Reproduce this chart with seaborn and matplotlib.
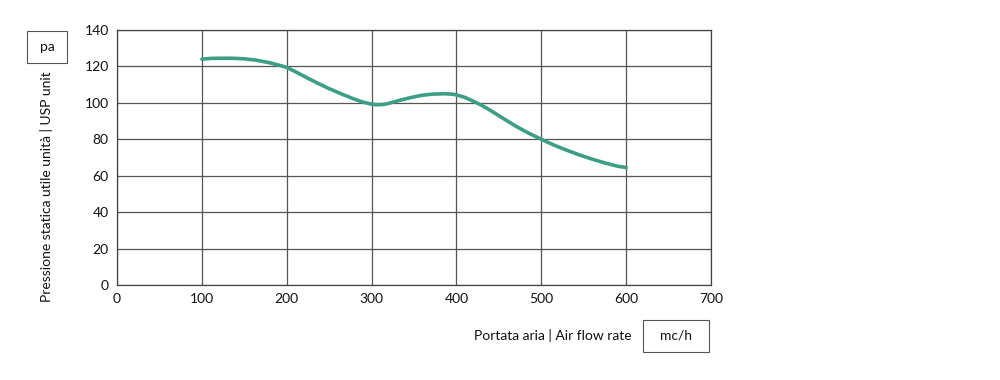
import matplotlib
matplotlib.use("Agg")
import matplotlib.pyplot as plt
import seaborn as sns
import pandas as pd
from matplotlib.patches import Rectangle

# curve
flow = [100, 110, 120, 135, 150, 165, 180, 190, 200, 212, 225, 237, 250, 265, 280, 290,
        300, 305, 310, 315, 320, 330, 340, 350, 360, 372, 385, 395, 400, 410, 420, 430,
        440, 455, 470, 485, 500, 515, 530, 545, 560, 575, 590, 600]
pressure = [124.0, 124.4, 124.5, 124.5, 124.2, 123.4, 122.0, 120.8, 119.5, 116.7, 113.5,
            110.7, 107.8, 104.8, 102.0, 100.4, 99.3, 99.0, 99.0, 99.2, 99.7, 101.0, 102.2,
            103.3, 104.2, 104.8, 105.0, 104.8, 104.4, 103.0, 100.9, 98.6, 95.9, 91.5, 87.2,
            83.4, 80.0, 76.8, 74.0, 71.4, 69.1, 67.0, 65.2, 64.5]

x_ticks = [0, 100, 200, 300, 400, 500, 600, 700]
y_ticks = [0, 20, 40, 60, 80, 100, 120, 140]

x_label = "Portata aria | Air flow rate"
y_label = "Pressione statica utile unità | USP unit"
x_unit = "mc/h"
y_unit = "pa"

sns.set_style("white")
plt.rcParams["font.family"] = ["Lato", "DejaVu Sans"]

df = pd.DataFrame({"flow": flow, "pressure": pressure})

fig = plt.figure(figsize=(10, 3.8), dpi=100)
ax = fig.add_axes([0.117, 0.25, 0.594, 0.671])

sns.lineplot(data=df, x="flow", y="pressure", ax=ax, color="#3c9f85", linewidth=2.6)

ax.set_xlim(0, 700)
ax.set_ylim(0, 140)
ax.set_xticks(x_ticks)
ax.set_yticks(y_ticks)
ax.tick_params(axis="both", length=0, labelsize=10, colors="#111111", pad=6)
ax.grid(True, color="#555555", linewidth=0.9)
for s in ax.spines.values():
    s.set_color("#444444")
    s.set_linewidth(0.9)
ax.set_xlabel("")
ax.set_ylabel("")

# unit boxes and labels
fig.patches.append(Rectangle((0.027, 0.835), 0.040, 0.084, transform=fig.transFigure,
                             fill=False, edgecolor="#555555", linewidth=0.8))
fig.text(0.047, 0.877, y_unit, ha="center", va="center", fontsize=10, color="#111111")
fig.text(0.047, 0.51, y_label, rotation=90, ha="center", va="center", fontsize=10,
         color="#111111")

fig.patches.append(Rectangle((0.643, 0.074), 0.066, 0.084, transform=fig.transFigure,
                             fill=False, edgecolor="#555555", linewidth=0.8))
fig.text(0.676, 0.116, x_unit, ha="center", va="center", fontsize=10, color="#111111")
fig.text(0.632, 0.116, x_label, ha="right", va="center", fontsize=10, color="#111111")

fig.savefig("out.png", dpi=100)
